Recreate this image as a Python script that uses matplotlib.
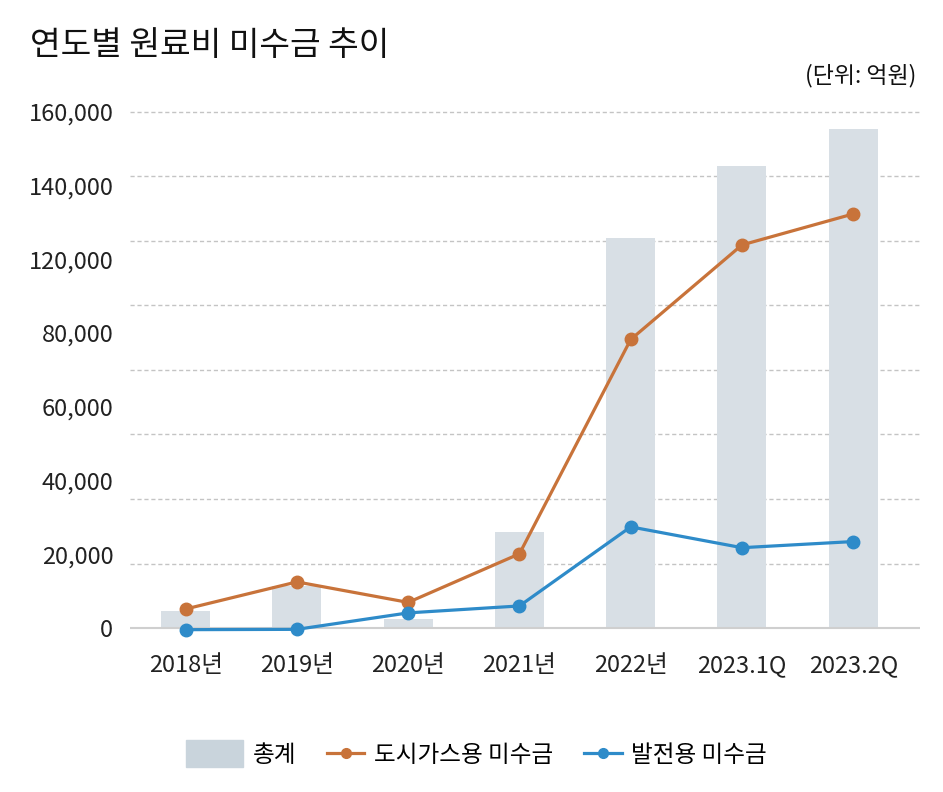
import matplotlib.pyplot as plt
import numpy as np
from matplotlib.legend_handler import HandlerPatch
from matplotlib import patches

plt.rcParams['font.family'] = ['Noto Sans CJK KR', 'DejaVu Sans']

categories = ["2018년", "2019년", "2020년", "2021년", "2022년", "2023.1Q", "2023.2Q"]
total = [5300, 13000, 2800, 29800, 120700, 143200, 154600]
city_gas = [5900, 14300, 7950, 23000, 89400, 118700, 128300]
power_gen = [-500, -400, 4700, 6850, 31350, 24900, 26800]

ytick_labels = ["0", "20,000", "40,000", "60,000", "80,000", "120,000", "140,000", "160,000"]
grid_values = np.arange(20000, 160001, 20000)

bar_color = "#d8dfe5"
orange = "#c8733a"
blue = "#2e8bc9"

fig = plt.figure(figsize=(9.43, 7.92), dpi=100)
ax = fig.add_axes([130 / 943, 152 / 792, 790 / 943, 540 / 792])

x = np.arange(len(categories))
bars = ax.bar(x, total, width=0.44, color=bar_color, zorder=1)
l1, = ax.plot(x, city_gas, color=orange, lw=2.3, marker="o", ms=9, zorder=3)
l2, = ax.plot(x, power_gen, color=blue, lw=2.3, marker="o", ms=9, zorder=3)

for g in grid_values:
    ax.axhline(g, color="#c4c4c4", lw=1, ls=(0, (3, 2)), zorder=0)
ax.axhline(0, color="#cfcfcf", lw=1.5, zorder=2)

ax.set_xlim(-0.5, 6.6)
ax.set_ylim(-3700, 163600)

# tick labels are evenly spread, not tied to the gridlines
ax.set_yticks(np.linspace(0, 160000, len(ytick_labels)))
ax.set_yticklabels(ytick_labels, fontsize=17, color="#222222")
ax.set_xticks(x)
ax.set_xticklabels(categories, fontsize=17, color="#222222")
ax.tick_params(axis="y", length=0, pad=12)
ax.tick_params(axis="x", length=0, pad=10)
for s in ax.spines.values():
    s.set_visible(False)

fig.text(30 / 943, 1 - 46 / 792, "연도별 원료비 미수금 추이", fontsize=24, va="center", ha="left", color="#111111")
fig.text(916 / 943, 1 - 76 / 792, "(단위: 억원)", fontsize=16.5, va="center", ha="right", color="#111111")


def wide_patch(legend, orig_handle, xdescent, ydescent, width, height, fontsize):
    extra = 0.5 * width
    return patches.Rectangle((-xdescent - extra, -ydescent - 0.15 * height),
                             width + extra, height * 1.3)


leg = fig.legend([bars.patches[0], l1, l2], ["총계", "도시가스용 미수금", "발전용 미수금"],
                 loc="center", bbox_to_anchor=(486 / 943, 1 - 755 / 792), ncol=3,
                 frameon=False, fontsize=17, handlelength=1.6, handleheight=1.0,
                 columnspacing=1.3, handletextpad=0.4,
                 handler_map={patches.Rectangle: HandlerPatch(patch_func=wide_patch)})
leg.legend_handles[0].set_color("#c9d4dc")
for h in leg.legend_handles[1:]:
    h.set_markersize(7)

fig.savefig("out.png", dpi=100)
